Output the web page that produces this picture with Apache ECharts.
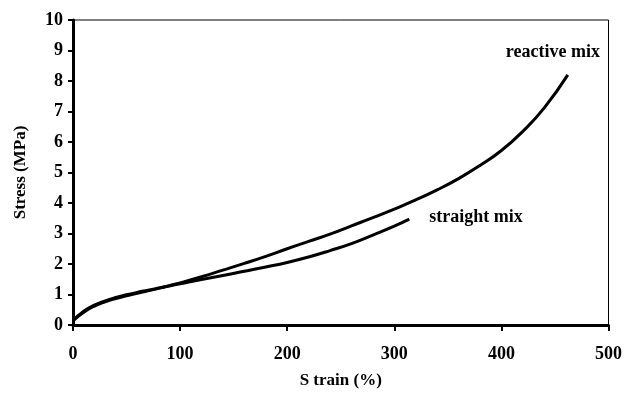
<!DOCTYPE html>
<html>
<head>
<meta charset="utf-8">
<script src="https://cdn.jsdelivr.net/npm/echarts@6/dist/echarts.min.js"></script>
<style>html,body{margin:0;padding:0;background:#fff}#c{width:625px;height:394px}</style>
</head>
<body>
<div id="c"></div>
<script>
// Reactive mix: strain (%) , stress (MPa)
const reactiveStrain = [0, 10, 20, 30, 40, 50, 60, 70, 80, 90, 100, 120, 140, 160, 180, 200, 220, 240, 260, 280, 300, 320, 340, 360, 380, 400, 420, 440, 462];
const reactiveStress = [0.14, 0.42, 0.62, 0.76, 0.87, 0.96, 1.04, 1.12, 1.2, 1.29, 1.38, 1.58, 1.8, 2.02, 2.25, 2.5, 2.74, 2.98, 3.25, 3.52, 3.8, 4.1, 4.43, 4.8, 5.23, 5.72, 6.35, 7.12, 8.2];
// Straight mix
const straightStrain = [0, 10, 20, 30, 40, 50, 60, 70, 80, 90, 100, 120, 140, 160, 180, 200, 220, 240, 260, 280, 300, 314];
const straightStress = [0.14, 0.45, 0.65, 0.79, 0.9, 0.99, 1.07, 1.14, 1.21, 1.28, 1.35, 1.49, 1.62, 1.76, 1.9, 2.05, 2.23, 2.44, 2.67, 2.95, 3.24, 3.47];
const xTicks = [0, 100, 200, 300, 400, 500];
const yTicks = [0, 1, 2, 3, 4, 5, 6, 7, 8, 9, 10];
const seriesNames = ['reactive mix', 'straight mix'];

const font = "'Liberation Serif', 'DejaVu Serif', serif";
const chart = echarts.init(document.getElementById('c'), null, {renderer: 'canvas'});
const pairs = (xs, ys) => xs.map((x, i) => [x, ys[i]]);

chart.setOption({
  animation: false,
  backgroundColor: '#fff',
  grid: {left: 73, right: 16, top: 20, bottom: 67, show: true, borderColor: '#000', borderWidth: 1, backgroundColor: 'transparent'},
  xAxis: {
    type: 'value', min: xTicks[0], max: xTicks[xTicks.length - 1], interval: 100,
    name: 'S train (%)', nameLocation: 'middle', nameGap: 47,
    nameTextStyle: {fontFamily: font, fontWeight: 'bold', fontSize: 17, color: '#000'},
    axisLine: {show: true, lineStyle: {color: '#000', width: 3}},
    axisTick: {show: true, inside: false, length: 6, lineStyle: {color: '#000', width: 2}},
    axisLabel: {margin: 20, fontFamily: font, fontWeight: 'bold', fontSize: 18, color: '#000'},
    splitLine: {show: false}
  },
  yAxis: {
    type: 'value', min: yTicks[0], max: yTicks[yTicks.length - 1], interval: 1,
    name: 'Stress (MPa)', nameLocation: 'middle', nameGap: 44, nameRotate: 90,
    nameTextStyle: {fontFamily: font, fontWeight: 'bold', fontSize: 17, color: '#000'},
    axisLine: {show: true, lineStyle: {color: '#000', width: 3}},
    axisTick: {show: true, inside: false, length: 5, lineStyle: {color: '#000', width: 2}},
    axisLabel: {margin: 10, fontFamily: font, fontWeight: 'bold', fontSize: 18, color: '#000'},
    splitLine: {show: false}
  },
  series: [
    {
      name: seriesNames[0], type: 'line', data: pairs(reactiveStrain, reactiveStress),
      smooth: 0.5, showSymbol: false, symbol: 'none',
      lineStyle: {color: '#000', width: 3}, z: 3,
      endLabel: {show: true, formatter: seriesNames[0], fontFamily: font, fontWeight: 'bold', fontSize: 18, color: '#000', offset: [-70, -23]}
    },
    {
      name: seriesNames[1], type: 'line', data: pairs(straightStrain, straightStress),
      smooth: 0.5, showSymbol: false, symbol: 'none',
      lineStyle: {color: '#000', width: 3}, z: 3,
      endLabel: {show: true, formatter: seriesNames[1], fontFamily: font, fontWeight: 'bold', fontSize: 18, color: '#000', offset: [12, -2]}
    }
  ]
});
</script>
</body>
</html>
